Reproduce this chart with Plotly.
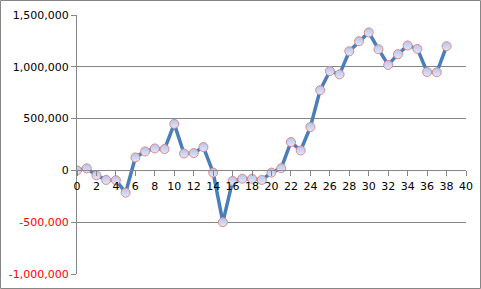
import plotly.graph_objects as go

x_vals = list(range(0, 39))
y_vals = [0, 20000, -47000, -92000, -95000, -215000, 125000, 183000, 212000, 206000,
          449000, 163000, 167000, 225000, -21000, -500000, -102000, -80000, -80000, -92000,
          -21000, 21000, 274000, 192000, 419000, 775000, 959000, 927000, 1150000, 1247000,
          1332000, 1170000, 1018000, 1122000, 1206000, 1173000, 950000, 947000, 1199000]

y_tickvals = [-1000000, -500000, 0, 500000, 1000000, 1500000]
x_tickvals = list(range(0, 41, 2))

def fmt(v):
    s = f"{v:,}"
    if v < 0:
        return f"<span style='color:#ff0000'>{s}</span>"
    return s

y_ticktext = [fmt(v) for v in y_tickvals]

fig = go.Figure()
fig.add_trace(go.Scatter(
    x=x_vals, y=y_vals, mode="lines+markers",
    line=dict(color="#4a7ebb", width=3.5),
    marker=dict(symbol="circle", size=9, color="#b6c2ea",
                gradient=dict(type="vertical", color="#e2e8f8"),
                line=dict(color="#d98c8c", width=1)),
    showlegend=False, hoverinfo="skip",
))

L, R, T, B = 77, 15, 15, 15
W, H = 481, 289
pw, ph = W - L - R, H - T - B

fig.update_layout(
    template="none",
    width=W, height=H,
    margin=dict(l=L, r=R, t=T, b=B, pad=0, autoexpand=False),
    paper_bgcolor="white", plot_bgcolor="white",
    font=dict(family="DejaVu Sans", size=11, color="black"),
    xaxis=dict(range=[0, 40], tickmode="array", tickvals=x_tickvals,
               ticktext=[str(v) for v in x_tickvals], automargin=False,
               showgrid=False, zeroline=False, showline=True, linecolor="#868686",
               linewidth=1, ticks="outside", ticklen=5, tickcolor="#868686", tickwidth=1,
               anchor="free", position=0.4, fixedrange=True,
               tickfont=dict(family="DejaVu Sans", size=11, color="black")),
    yaxis=dict(range=[-1000000, 1500000], tickmode="array", tickvals=y_tickvals,
               ticktext=y_ticktext, showgrid=True, gridcolor="#868686", gridwidth=1,
               zeroline=False, showline=True, linecolor="#868686", linewidth=1,
               ticks="outside", ticklen=5, tickcolor="#868686", tickwidth=1,
               ticklabelstandoff=0, automargin=False, fixedrange=True,
               tickfont=dict(family="DejaVu Sans", size=11, color="black")),
    shapes=[dict(type="rect", xref="paper", yref="paper",
                 x0=(0.5 - L) / pw, x1=(W - 0.5 - L) / pw,
                 y0=(H - B - (H - 0.5)) / ph, y1=(H - B - 0.5) / ph,
                 line=dict(color="#868686", width=1), fillcolor="rgba(0,0,0,0)",
                 layer="below")],
)

fig.write_html("out.html")
